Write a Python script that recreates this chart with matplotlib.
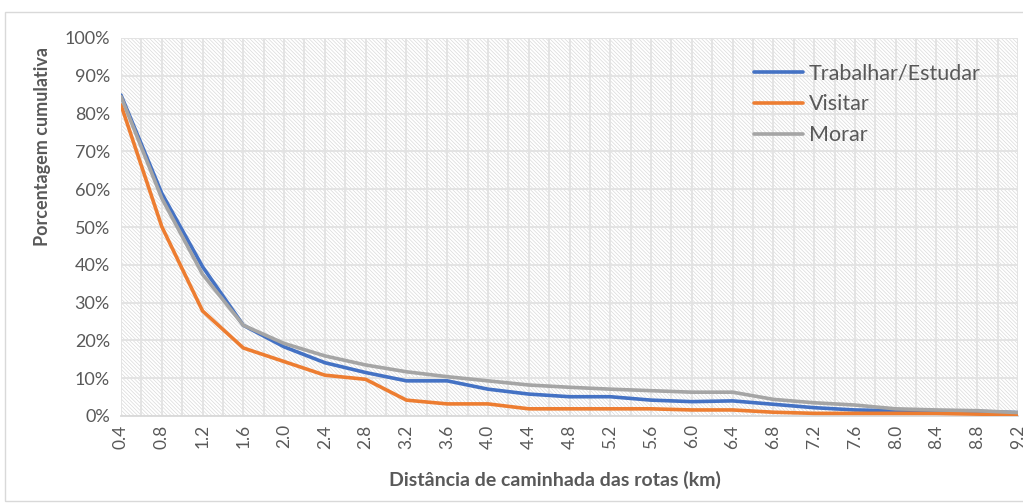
import matplotlib
matplotlib.use("Agg")
import matplotlib.pyplot as plt
from matplotlib.patches import Rectangle
import numpy as np

distances = ["0.4", "0.8", "1.2", "1.6", "2.0", "2.4", "2.8", "3.2", "3.6", "4.0", "4.4", "4.8",
             "5.2", "5.6", "6.0", "6.4", "6.8", "7.2", "7.6", "8.0", "8.4", "8.8", "9.2"]
trabalhar = [84.9, 58.9, 39.5, 24.0, 18.3, 14.1, 11.5, 9.3, 9.3, 7.1, 5.8, 5.1,
             5.1, 4.2, 3.8, 4.0, 3.1, 2.2, 1.6, 1.4, 1.3, 1.2, 0.9]
visitar = [82.3, 50.1, 27.8, 18.0, 14.4, 10.8, 9.7, 4.2, 3.2, 3.2, 1.9, 1.9,
           1.9, 1.9, 1.6, 1.6, 1.0, 0.7, 0.7, 0.7, 0.7, 0.5, 0.3]
morar = [84.5, 57.6, 37.5, 24.0, 19.2, 15.9, 13.5, 11.7, 10.4, 9.3, 8.2, 7.6,
         7.1, 6.7, 6.3, 6.3, 4.4, 3.5, 2.9, 1.9, 1.6, 1.4, 0.9]
series_names = ["Trabalhar/Estudar", "Visitar", "Morar"]
colors = ["#4472C4", "#ED7D31", "#A5A5A5"]

plt.rcParams['font.family'] = ['Lato', 'DejaVu Sans']
plt.rcParams['hatch.linewidth'] = 0.5

fig = plt.figure(figsize=(10.23, 5.04), dpi=100)
# chart border
fig.patches.append(Rectangle((5/1023, 3/504), 1.1, 489/504, transform=fig.transFigure,
                             fill=False, edgecolor="#d9d9d9", linewidth=1.0, zorder=0))
ax = fig.add_axes([121/1023, 1 - 416/504, (1018 - 121)/1023, (416 - 38)/504])

x = np.arange(len(distances))
ax.set_xlim(0, len(distances) - 1)
ax.set_ylim(0, 100)

# hatched background
ax.add_patch(Rectangle((0, 0), 1, 1, transform=ax.transAxes, facecolor="white",
                       edgecolor="#dadada", hatch="\\" * 9, linewidth=0, zorder=0))

for vals, name, c in zip([trabalhar, visitar, morar], series_names, colors):
    ax.plot(x, vals, color=c, linewidth=2.6, label=name, zorder=3,
            solid_joinstyle="round", solid_capstyle="round")

ax.set_xticks(x)
ax.set_xticks(np.arange(0.5, len(distances) - 1, 1.0), minor=True)
ax.set_xticklabels(distances, rotation=90, fontsize=12.5, color="#595959")
ax.set_yticks(np.arange(0, 101, 10))
ax.set_yticklabels([f"{v}%" for v in range(0, 101, 10)], fontsize=13, color="#595959")
ax.tick_params(axis="both", which="both", length=0)
ax.tick_params(axis="x", pad=6)
ax.tick_params(axis="y", pad=8)
ax.grid(True, which="both", axis="x", color="#e2e2e2", linewidth=1.3, zorder=1)
ax.grid(True, which="major", axis="y", color="#e2e2e2", linewidth=1.3, zorder=1)
ax.set_axisbelow(True)
for s in ["top", "right", "left"]:
    ax.spines[s].set_visible(False)
ax.spines["bottom"].set_color("#d9d9d9")
ax.spines["bottom"].set_linewidth(1.3)

ax.set_ylabel("Porcentagem cumulativa", fontsize=13, fontweight="bold", color="#595959", labelpad=6)
ax.yaxis.set_label_coords(-0.078, (416 - 147) / 378)
ax.set_xlabel("Distância de caminhada das rotas (km)", fontsize=14, fontweight="bold",
              color="#595959")
ax.xaxis.set_label_coords((555 - 121) / 897, -(480 - 416) / 378)
ax.xaxis.label.set_va("center")

leg = ax.legend(loc="upper left", bbox_to_anchor=((745 - 121)/897, 1 - (55 - 38)/378),
                frameon=False, fontsize=15.5, handlelength=2.3, handletextpad=0.25,
                labelspacing=0.5, borderaxespad=0)
for t in leg.get_texts():
    t.set_color("#595959")

fig.savefig("out.png", dpi=100)
